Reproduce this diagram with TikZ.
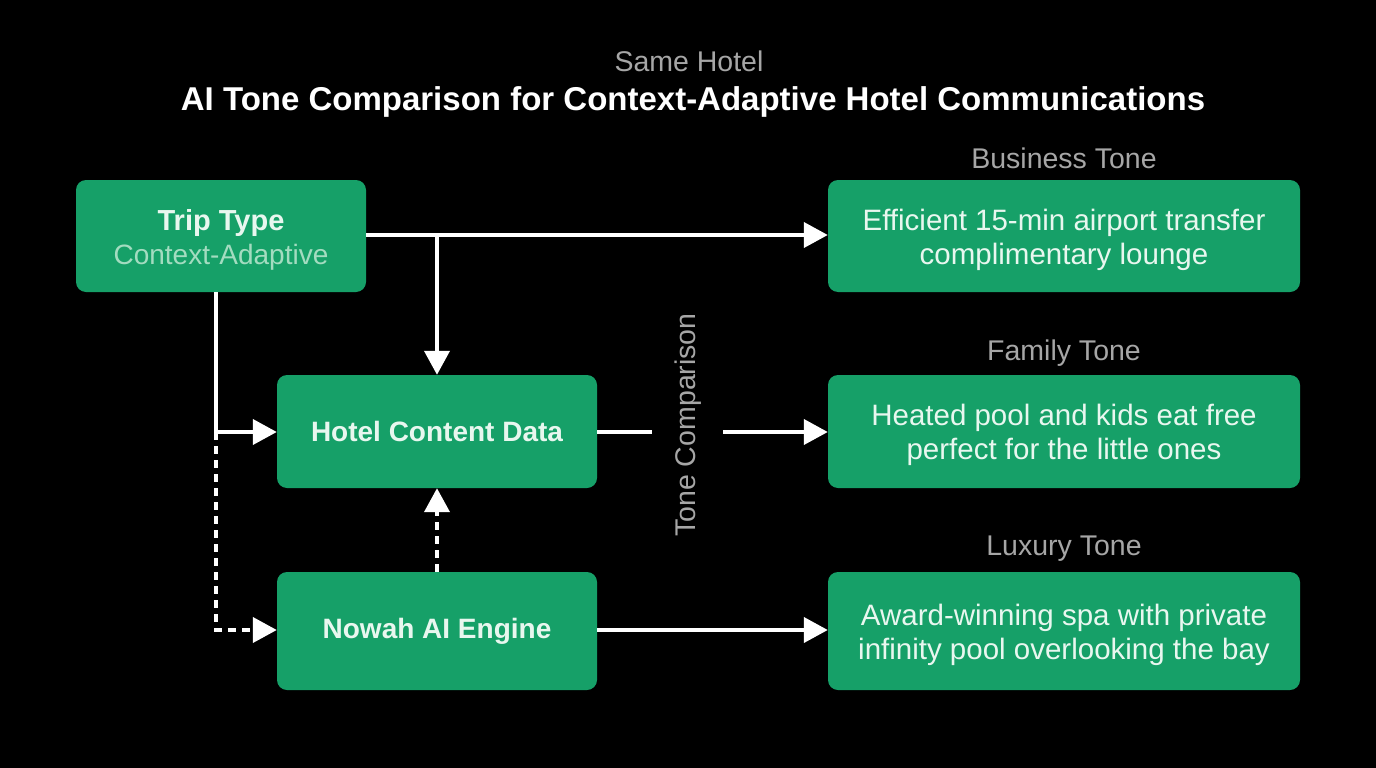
\documentclass[tikz,border=0pt]{standalone}
\usepackage{fontspec}
\setmainfont{Liberation Sans}
\usetikzlibrary{arrows.meta}
\definecolor{boxgreen}{HTML}{16A068}
\definecolor{boxtext}{HTML}{E8F7EF}
\definecolor{subtext}{HTML}{A3DCC0}
\definecolor{graytext}{HTML}{A6A6A6}
\newcommand{\twolines}[2]{\raisebox{-4.5pt}[\height][\depth]{\begin{tabular}{@{}c@{}}#1\\#2\end{tabular}}}
\tikzset{
  gbox/.style={fill=boxgreen, rounded corners=10pt, inner sep=0pt, align=center, text=boxtext, font=\fontsize{29.5}{34}\selectfont},
  conn/.style={draw=white, line width=4pt, -{Triangle[length=24pt,width=25pt]}},
  dconn/.style={conn, dash pattern=on 8pt off 6pt},
  plain/.style={draw=white, line width=4pt},
  lbl/.style={text=graytext, font=\fontsize{28.5}{30}\selectfont},
}
\begin{document}
\begin{tikzpicture}[x=1pt,y=-1pt]
\fill[black] (0,0) rectangle (1376,768);
\useasboundingbox (0,0) rectangle (1376,768);

\node[lbl] (same) at (689,61) {Same Hotel};
\node[text=white, font=\fontsize{33}{36}\selectfont\bfseries] (title) at (693,102) {AI Tone Comparison for Context-Adaptive Hotel Communications};

\node[gbox, minimum width=290pt, minimum height=112pt] (trip) at (221,236) {\twolines{\fontsize{29}{34}\selectfont\bfseries Trip Type}{\fontsize{28}{34}\selectfont\color{subtext}Context-Adaptive}};
\node[gbox, minimum width=320pt, minimum height=113pt, font=\fontsize{28}{34}\selectfont\bfseries] (hotel) at (437,431.5) {Hotel Content Data};
\node[gbox, minimum width=320pt, minimum height=118pt, font=\fontsize{28}{34}\selectfont\bfseries] (engine) at (437,631) {Nowah AI Engine};

\node[gbox, minimum width=472pt, minimum height=112pt] (biz) at (1064,236) {\twolines{Efficient 15-min airport transfer}{complimentary lounge}};
\node[gbox, minimum width=472pt, minimum height=113pt] (fam) at (1064,431.5) {\twolines{Heated pool and kids eat free}{perfect for the little ones}};
\node[gbox, minimum width=472pt, minimum height=118pt] (lux) at (1064,631) {\twolines{Award-winning spa with private}{infinity pool overlooking the bay}};

\node[lbl] (bizl) at (1064,158) {Business Tone};
\node[lbl] (faml) at (1064,353) {Family Tone};
\node[lbl] (luxl) at (1064,549) {Luxury Tone};

\node[lbl, rotate=90] (tone) at (688,425) {Tone Comparison};

\coordinate (split) at (437,235);
\coordinate (corner1) at (216,432);
\coordinate (corner2) at (216,630);
\coordinate (gapL) at (652,432);
\coordinate (gapR) at (723,432);

\draw[conn] (trip.east |- split) -- (biz.west |- split);
\draw[conn] (split) -- (hotel.north);
\draw[dconn] (corner1) -- (corner2) -- (engine.west |- corner2);
\draw[conn] (trip.south -| corner1) -- (corner1) -- (hotel.west |- corner1);
\draw[dconn] (engine.north) -- (hotel.south);
\draw[plain] (hotel.east |- gapL) -- (gapL);
\draw[conn] (gapR) -- (fam.west |- gapR);
\draw[conn] (engine.east |- corner2) -- (lux.west |- corner2);
\end{tikzpicture}
\end{document}
